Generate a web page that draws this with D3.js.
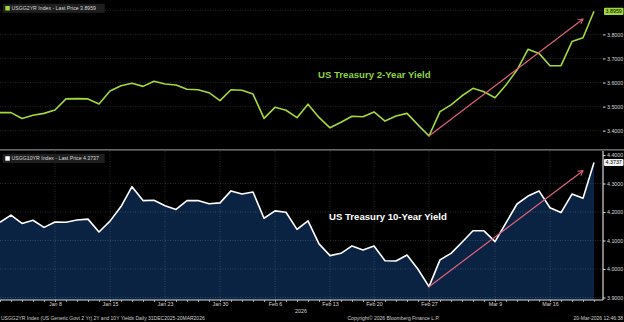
<!DOCTYPE html>
<html>
<head>
<meta charset="utf-8">
<script src="https://cdnjs.cloudflare.com/ajax/libs/d3/7.8.5/d3.min.js"></script>
<style>
  body { margin: 0; background: #000; }
  svg { display: block; font-family: "Liberation Sans", Arial, sans-serif; }
</style>
</head>
<body>
<div id="chart"></div>
<script>
// trading days 31 Dec 2025 - 20 Mar 2026
var dates = [
  "2025-12-31", "2026-01-02",
  "2026-01-05", "2026-01-06", "2026-01-07", "2026-01-08", "2026-01-09",
  "2026-01-12", "2026-01-13", "2026-01-14", "2026-01-15", "2026-01-16",
  "2026-01-20", "2026-01-21", "2026-01-22", "2026-01-23",
  "2026-01-26", "2026-01-27", "2026-01-28", "2026-01-29", "2026-01-30",
  "2026-02-02", "2026-02-03", "2026-02-04", "2026-02-05", "2026-02-06",
  "2026-02-09", "2026-02-10", "2026-02-11", "2026-02-12", "2026-02-13",
  "2026-02-17", "2026-02-18", "2026-02-19", "2026-02-20",
  "2026-02-23", "2026-02-24", "2026-02-25", "2026-02-26", "2026-02-27",
  "2026-03-02", "2026-03-03", "2026-03-04", "2026-03-05", "2026-03-06",
  "2026-03-09", "2026-03-10", "2026-03-11", "2026-03-12", "2026-03-13",
  "2026-03-16", "2026-03-17", "2026-03-18", "2026-03-19", "2026-03-20"
];

var yield2y = [
  3.475, 3.475,
  3.451, 3.464, 3.472, 3.486, 3.532,
  3.533, 3.532, 3.511, 3.565, 3.587,
  3.597, 3.584, 3.605, 3.594,
  3.590, 3.572, 3.570, 3.558, 3.525,
  3.570, 3.568, 3.552, 3.451, 3.497,
  3.485, 3.454, 3.510, 3.455, 3.412,
  3.435, 3.460, 3.458, 3.478,
  3.440, 3.461, 3.472, 3.424, 3.378,
  3.479, 3.507, 3.545, 3.576, 3.562,
  3.537, 3.590, 3.652, 3.738, 3.721,
  3.670, 3.670, 3.770, 3.786, 3.8959
];

var yield10y = [
  4.164, 4.189,
  4.160, 4.171, 4.146, 4.165, 4.164,
  4.172, 4.175, 4.130, 4.168, 4.219,
  4.289, 4.240, 4.241, 4.222,
  4.209, 4.240, 4.240, 4.229, 4.232,
  4.274, 4.263, 4.270, 4.178, 4.204,
  4.199, 4.139, 4.169, 4.088, 4.047,
  4.055, 4.081, 4.067, 4.081,
  4.029, 4.028, 4.049, 3.999, 3.938,
  4.032, 4.055, 4.094, 4.134, 4.134,
  4.096, 4.162, 4.228, 4.256, 4.274,
  4.215, 4.198, 4.263, 4.248, 4.3737
];

var tickDates = ["2026-01-08", "2026-01-15", "2026-01-23", "2026-01-30", "2026-02-06",
                 "2026-02-13", "2026-02-20", "2026-02-27", "2026-03-09", "2026-03-16"];
var tickLabels = ["Jan 8", "Jan 15", "Jan 23", "Jan 30", "Feb 6",
                  "Feb 13", "Feb 20", "Feb 27", "Mar 9", "Mar 16"];

var ticks2y = [3.4, 3.5, 3.6, 3.7, 3.8];
var grid2y = [3.4, 3.5, 3.6, 3.7, 3.8, 3.9];
var ticks10y = [3.9, 4.0, 4.1, 4.2, 4.3, 4.4];

// trend arrows: [start date, start value, end date, end value]
var arrow2y = ["2026-02-27", 3.378, "2026-03-19", 3.864];
var arrow10y = ["2026-02-27", 3.938, "2026-03-19", 4.345];

var width = 624,
    height = 322,
    axisX = 603;

var green = "#a2d93b",
    pink = "#e2627c",
    navy = "#0a2342";

var svg = d3.select("#chart").append("svg")
    .attr("width", width)
    .attr("height", height);

svg.append("rect")
    .attr("width", width)
    .attr("height", height)
    .attr("fill", "#000");

var defs = svg.append("defs");
defs.append("marker")
    .attr("id", "head")
    .attr("viewBox", "-8 -5 10 10")
    .attr("markerWidth", 8)
    .attr("markerHeight", 8)
    .attr("markerUnits", "userSpaceOnUse")
    .attr("orient", "auto")
  .append("path")
    .attr("d", "M-6,-3.5L0,0L-6,3.5")
    .attr("fill", "none")
    .attr("stroke", pink)
    .attr("stroke-width", 1.2);

var x = d3.scalePoint()
    .domain(dates)
    .range([0, 594]);

var yTop = d3.scaleLinear().domain([3.4, 3.9]).range([130.7, 10.3]);
var yBot = d3.scaleLinear().domain([3.9, 4.4]).range([297.5, 155]);

var top = { y0: 0, y1: 149 },
    bot = { y0: 151, y1: 300 };

var gridColor = "rgba(255,255,255,0.2)";

// bottom area first so grid shows on top
var area = d3.area()
    .x(function(d, i) { return x(dates[i]); })
    .y0(bot.y1)
    .y1(function(d) { return yBot(d); });

svg.append("path")
    .datum(yield10y)
    .attr("d", area)
    .attr("fill", navy);

function grid(scale, vals, panel) {
  var g = svg.append("g").attr("stroke", gridColor).attr("stroke-dasharray", "1,1.5").attr("stroke-width", 0.8);
  g.selectAll(".v")
      .data(tickDates)
    .enter().append("line")
      .attr("x1", function(d) { return x(d); })
      .attr("x2", function(d) { return x(d); })
      .attr("y1", panel.y0)
      .attr("y2", panel.y1);
  g.selectAll(".h")
      .data(vals)
    .enter().append("line")
      .attr("x1", 0)
      .attr("x2", axisX)
      .attr("y1", function(d) { return scale(d); })
      .attr("y2", function(d) { return scale(d); });
}
grid(yTop, grid2y, top);
grid(yBot, ticks10y.slice(0, 5), bot);

var lineTop = d3.line()
    .x(function(d, i) { return x(dates[i]); })
    .y(function(d) { return yTop(d); });
var lineBot = d3.line()
    .x(function(d, i) { return x(dates[i]); })
    .y(function(d) { return yBot(d); });

svg.append("path")
    .datum(yield2y)
    .attr("d", lineTop)
    .attr("fill", "none")
    .attr("stroke", green)
    .attr("stroke-width", 1.6)
    .attr("stroke-linejoin", "round");

svg.append("path")
    .datum(yield10y)
    .attr("d", lineBot)
    .attr("fill", "none")
    .attr("stroke", "#fff")
    .attr("stroke-width", 1.6)
    .attr("stroke-linejoin", "round");

function arrow(a, scale) {
  svg.append("line")
      .attr("x1", x(a[0]))
      .attr("y1", scale(a[1]))
      .attr("x2", x(a[2]))
      .attr("y2", scale(a[3]))
      .attr("stroke", pink)
      .attr("stroke-width", 1.2)
      .attr("marker-end", "url(#head)");
}
arrow(arrow2y, yTop);
arrow(arrow10y, yBot);

// titles
svg.append("text")
    .attr("x", 318)
    .attr("y", 77.5)
    .attr("fill", "#8fd43a")
    .attr("font-weight", "bold")
    .attr("font-size", "9.6px")
    .text("US Treasury 2-Year Yield");

svg.append("text")
    .attr("x", 329)
    .attr("y", 220)
    .attr("fill", "#fff")
    .attr("font-weight", "bold")
    .attr("font-size", "9.6px")
    .text("US Treasury 10-Year Yield");

// panel separator
svg.append("rect")
    .attr("x", 0)
    .attr("y", 149)
    .attr("width", width)
    .attr("height", 1.6)
    .attr("fill", "#6a6a6a");

// right axes
function rightAxis(scale, vals, panel, color) {
  svg.append("line")
      .attr("x1", axisX).attr("x2", axisX)
      .attr("y1", panel.y0).attr("y2", panel.y1)
      .attr("stroke", color)
      .attr("stroke-width", 1);
  var g = svg.append("g")
      .attr("transform", "translate(" + axisX + ",0)")
      .call(d3.axisRight(scale)
        .tickValues(vals)
        .tickSize(2.5)
        .tickPadding(1.5)
        .tickFormat(d3.format(".4f")));
  g.select(".domain").remove();
  g.selectAll("line").attr("stroke", "#ddd");
  g.selectAll("text")
      .attr("fill", "#d8d8d8")
      .attr("font-size", "5.3px")
      .attr("font-family", "Liberation Sans, Arial, sans-serif");
}
rightAxis(yTop, ticks2y, top, green);
rightAxis(yBot, ticks10y, bot, "#fff");

// last price tags
function priceTag(val, scale, bg) {
  var yy = scale(val);
  svg.append("rect")
      .attr("x", 604)
      .attr("y", yy - 3.6)
      .attr("width", 19.5)
      .attr("height", 7.2)
      .attr("rx", 1)
      .attr("fill", bg);
  svg.append("text")
      .attr("x", 613.7)
      .attr("y", yy + 1.9)
      .attr("text-anchor", "middle")
      .attr("fill", "#000")
      .attr("font-size", "5.3px")
      .text(d3.format(".4f")(val));
}
priceTag(yield2y[yield2y.length - 1], yTop, green);
priceTag(yield10y[yield10y.length - 1], yBot, "#f2f2f2");

// legends
function legend(y0, color, label) {
  svg.append("rect")
      .attr("x", 2.7).attr("y", y0)
      .attr("width", 102).attr("height", 9)
      .attr("fill", "#1e1e1e");
  svg.append("rect")
      .attr("x", 5.3).attr("y", y0 + 2.2)
      .attr("width", 4.5).attr("height", 4.5)
      .attr("fill", color);
  svg.append("text")
      .attr("x", 11.5).attr("y", y0 + 6.4)
      .attr("fill", "#d8d8d8")
      .attr("font-size", "5.2px")
      .text(label);
}
legend(3.8, green, "USGG2YR Index - Last Price " + d3.format(".4f")(yield2y[yield2y.length - 1]));
legend(154, "#fff", "USGG10YR Index - Last Price " + d3.format(".4f")(yield10y[yield10y.length - 1]));

// bottom x axis
svg.append("line")
    .attr("x1", 0).attr("x2", axisX)
    .attr("y1", bot.y1).attr("y2", bot.y1)
    .attr("stroke", "#e0e0e0")
    .attr("stroke-width", 1);

var minor = svg.append("g")
    .attr("transform", "translate(0," + bot.y1 + ")")
    .call(d3.axisBottom(x).tickValues(dates).tickSize(1.8).tickFormat(""));
minor.select(".domain").remove();
minor.selectAll("line").attr("stroke", "#bbb");

var xAxis = svg.append("g")
    .attr("transform", "translate(0," + bot.y1 + ")")
    .call(d3.axisBottom(x)
      .tickValues(tickDates)
      .tickSize(0)
      .tickPadding(2.3)
      .tickFormat(function(d, i) { return tickLabels[i]; }));
xAxis.select(".domain").remove();
xAxis.selectAll("text")
    .attr("fill", "#d8d8d8")
    .attr("font-size", "5.3px")
    .attr("font-family", "Liberation Sans, Arial, sans-serif");

svg.append("text")
    .attr("x", 301).attr("y", 313)
    .attr("text-anchor", "middle")
    .attr("fill", "#d8d8d8")
    .attr("font-size", "5.3px")
    .text("2026");

// footer
var foot = svg.append("g").attr("fill", "#cfcfcf").attr("font-size", "5px");
foot.append("text").attr("x", 1).attr("y", 320).text("USGG2YR Index (US Generic Govt 2 Yr) 2Y and 10Y Yields Daily 31DEC2025-20MAR2026");
foot.append("text").attr("x", 393.5).attr("y", 320).attr("text-anchor", "middle").text("Copyright\u00a9 2026 Bloomberg Finance L.P.");
foot.append("text").attr("x", 623).attr("y", 320).attr("text-anchor", "end").text("20-Mar-2026 12:46:38");
</script>
</body>
</html>
